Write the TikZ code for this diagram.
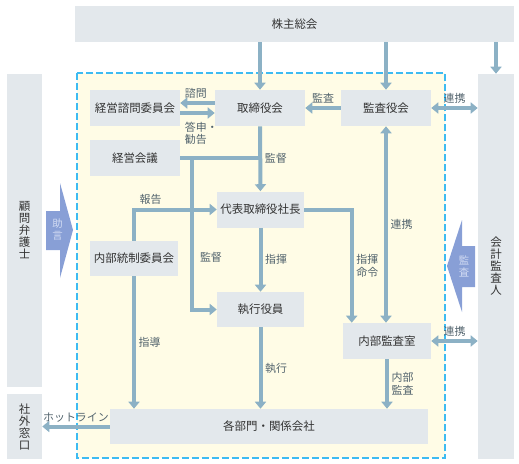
\documentclass[tikz,border=0pt]{standalone}
\usepackage{fontspec}
\setmainfont{Noto Sans CJK JP}
\usetikzlibrary{arrows.meta,calc}
\definecolor{boxgray}{HTML}{E3E8EC}
\definecolor{zonefill}{HTML}{FFFCE6}
\definecolor{zoneline}{HTML}{3DBBF2}
\definecolor{arrline}{HTML}{8CB1C5}
\definecolor{bigblue}{HTML}{889FD6}
\definecolor{bigtext}{HTML}{D3DCF3}
\definecolor{labeltext}{HTML}{52636D}
\definecolor{boxtext}{HTML}{333333}
\begin{document}
\begin{tikzpicture}
	[x=0.75pt,y=-0.75pt,
	box/.style={fill=boxgray,text=boxtext,inner sep=0pt,
		minimum width=67.5pt,minimum height=27pt,
		font=\fontsize{8.6}{9}\selectfont},
	vbox/.style={box,align=center,minimum width=26.25pt},
	lbl/.style={text=labeltext,inner sep=2pt,align=left,
		font=\fontsize{8.2}{9.5}\selectfont},
	arr/.style={draw=arrline,line width=3pt,
		-{Triangle[width=8.25pt,length=5.25pt]}},
	dbl/.style={arr,{Triangle[width=8.25pt,length=5.25pt]}-{Triangle[width=8.25pt,length=5.25pt]}},
	ln/.style={draw=arrline,line width=3pt},
	zone/.style={fill=zonefill,draw=zoneline,line width=1.5pt,
		dash pattern=on 5pt off 2.5pt},
	bigarrow/.style={fill=bigblue},
	bigtxt/.style={text=bigtext,align=center,inner sep=0pt,
		font=\fontsize{7.8}{9}\selectfont}]
	\useasboundingbox (0,0) rectangle (519,464);
	\draw[zone] (77,73) rectangle (445,458);

	\node[box,minimum width=329.25pt] (soukai) at (294.5,24) {株主総会};
	\node[vbox,minimum height=234.75pt] (komon) at (24.5,230.5) {顧\\問\\弁\\護\\士};
	\node[vbox,minimum height=48.75pt] (shagai) at (24.5,426.5) {社\\外\\窓\\口};
	\node[vbox,minimum width=27pt,minimum height=288.75pt] (kaikei) at (496,266.5) {会\\計\\監\\査\\人};

	\node[box] (shimon) at (135,108) {経営諮問委員会};
	\node[box] (torishimari) at (260,108) {取締役会};
	\node[box] (kansayaku) at (386,108) {監査役会};
	\node[box] (keieikaigi) at (135,158) {経営会議};
	\node[box,minimum width=65.25pt] (shachou) at (260.5,209.5) {代表取締役社長};
	\node[box,minimum width=66pt,minimum height=26.25pt] (naibutousei) at (134,258.5) {内部統制委員会};
	\node[box,minimum width=65.25pt,minimum height=26.25pt] (shikkou) at (260.5,309.5) {執行役員};
	\node[box,minimum width=66pt] (naibukansa) at (387,341) {内部監査室};
	\node[box,minimum width=238.5pt,minimum height=26.25pt] (kakubumon) at (269,426.5) {各部門・関係会社};

	\draw[arr] (soukai.south -| torishimari) -- (torishimari.north);
	\draw[arr] (soukai.south -| kansayaku) -- (kansayaku.north);
	\draw[arr] (soukai.south -| kaikei) -- (kaikei.north);
	\draw[arr] (kansayaku.west) -- (torishimari.east) node[midway,above,lbl] {監査};
	\draw[dbl] (kansayaku.east) -- (kaikei.west |- kansayaku) node[midway,above,lbl] {連携};
	\draw[arr] ([yshift=3.75pt]torishimari.west) -- ([yshift=3.75pt]shimon.east)
		node[at end,above right,lbl] {諮問};
	\draw[arr] ([yshift=-3.75pt]shimon.east) -- ([yshift=-3.75pt]torishimari.west);
	\node[lbl,anchor=north west] (toushin) at (182,119) {答申・\\勧告};

	\draw[arr] (torishimari) -- (shachou) node[midway,right,lbl] {監督};
	\coordinate (kb) at ([xshift=9pt]keieikaigi.east);
	\draw[ln] (keieikaigi.east) -- (keieikaigi.east -| torishimari);
	\draw[arr] (kb) |- (shikkou.west);
	\node[lbl] (kantoku) at (211,257) {監督};
	\draw[arr] (naibutousei.north) |- (shachou.west) node[pos=0.6,above,lbl] {報告};

	\draw[arr] (shachou) -- (shikkou) node[midway,right,lbl] {指揮};
	\draw[arr] (shachou.east) -| ([xshift=6.75pt]naibukansa.north west)
		node[pos=0.75,right,lbl] {指揮\\命令};
	\draw[dbl] (kansayaku.south) -- (kansayaku.south |- naibukansa.north)
		node[midway,right,lbl] {連携};
	\draw[arr] (shikkou) -- (shikkou |- kakubumon.north) node[midway,right,lbl] {執行};
	\draw[arr] (naibukansa) -- (naibukansa |- kakubumon.north) node[midway,right,lbl] {内部\\監査};
	\draw[arr] (naibutousei) -- (naibutousei |- kakubumon.north) node[midway,right,lbl] {指導};
	\draw[dbl] (naibukansa.east) -- (kaikei.west |- naibukansa) node[midway,above,lbl] {連携};
	\draw[arr] (kakubumon.west) -- (shagai.east |- kakubumon) node[midway,above,lbl] {ホットライン};

	\fill[bigarrow] (46,211) -- (60,211) -- (60,183) -- (73,230) -- (60,278) -- (60,250) -- (46,250) -- cycle;
	\node[bigtxt] (jogen) at (57.5,230) {助\\言};
	\fill[bigarrow] (475,246) -- (462,246) -- (462,220) -- (447,266) -- (462,312) -- (462,287) -- (475,287) -- cycle;
	\node[bigtxt] (kansa) at (464,266) {監\\査};
\end{tikzpicture}
\end{document}
